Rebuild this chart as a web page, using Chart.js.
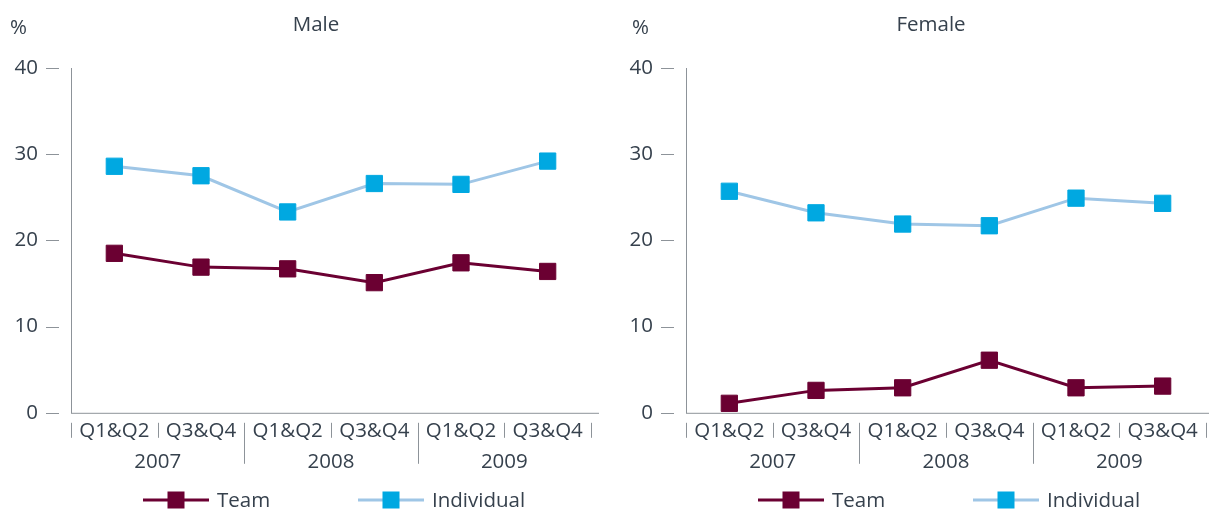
<!DOCTYPE html>
<html>
<head>
<meta charset="utf-8">
<script src="https://cdn.jsdelivr.net/npm/chart.js@4.4.1/dist/chart.umd.min.js"></script>
<style>
  html, body { margin: 0; padding: 0; background: #fff; }
  #wrap { position: relative; width: 1209px; height: 510px; }
  .box { position: absolute; top: 0; height: 510px; }
</style>
</head>
<body>
<div id="wrap">
  <div class="box" style="left:0;width:604px"><canvas id="maleChart"></canvas></div>
  <div class="box" style="left:609px;width:600px"><canvas id="femaleChart"></canvas></div>
</div>
<script>
const periods = ["Q1&Q2", "Q3&Q4", "Q1&Q2", "Q3&Q4", "Q1&Q2", "Q3&Q4"];
const years   = ["2007", "2008", "2009"];
const yTicks  = [0, 10, 20, 30, 40];
const seriesNames = ["Team", "Individual"];

const maleTeam         = [18.5, 16.9, 16.7, 15.1, 17.4, 16.4];
const maleIndividual   = [28.6, 27.5, 23.3, 26.6, 26.5, 29.2];
const femaleTeam       = [1.1, 2.6, 2.9, 6.1, 2.9, 3.1];
const femaleIndividual = [25.7, 23.2, 21.9, 21.7, 24.9, 24.3];

const TEXT = "#36414d", AXIS = "#8d9399";
const TEAM = "#6b0032", IND_LINE = "#9fc6e6", IND_PT = "#00a8e1";
const FONT = "'Open Sans', sans-serif";
const FS = 20.5;

// titles, % label, tick dashes, category separators and legend
const decor = {
  id: "decor",
  afterDraw(chart, args, o) {
    const { ctx, chartArea: a, scales: { x, y } } = chart;
    const mid = (a.left + a.right) / 2;
    ctx.save();
    ctx.fillStyle = TEXT;
    ctx.font = `${FS}px ${FONT}`;
    ctx.textBaseline = "middle";
    ctx.textAlign = "center";
    ctx.fillText(o.title, mid - 15, 25);
    ctx.textAlign = "left";
    ctx.fillText("%", a.left - o.pctOffset, 28);

    ctx.strokeStyle = AXIS; ctx.lineWidth = 1;
    yTicks.forEach(v => {
      const py = Math.round(y.getPixelForValue(v)) + 0.5;
      ctx.beginPath(); ctx.moveTo(a.left - 25, py); ctx.lineTo(a.left - 12, py); ctx.stroke();
    });
    // x axis line, a little past the plot
    ctx.beginPath(); ctx.moveTo(a.left, a.bottom + 0.5); ctx.lineTo(a.right + 8, a.bottom + 0.5); ctx.stroke();
    for (let i = 0; i <= periods.length; i++) {
      const px = Math.round(x.getPixelForValue(i - 0.5)) + 0.5;
      const long = i > 0 && i < periods.length && i % 2 === 0;
      ctx.beginPath(); ctx.moveTo(px, a.bottom + 10); ctx.lineTo(px, a.bottom + (long ? 51 : 25)); ctx.stroke();
    }

    // legend
    const ly = 500;
    chart.data.datasets.forEach((ds, i) => {
      const cx = mid + (i === 0 ? -155 : 60);
      ctx.strokeStyle = ds.borderColor; ctx.lineWidth = 3;
      ctx.beginPath(); ctx.moveTo(cx - 33, ly); ctx.lineTo(cx + 33, ly); ctx.stroke();
      ctx.fillStyle = ds.pointBackgroundColor;
      ctx.fillRect(cx - 8.5, ly - 8.5, 17, 17);
      ctx.fillStyle = TEXT;
      ctx.textAlign = "left";
      ctx.fillText(ds.label, cx + 41, ly + 1);
    });
    ctx.restore();
  }
};

const noSidePad = s => { s.paddingLeft = 0; s.paddingRight = 0; };

function makeChart(id, team, individual, title, pad, pctOffset) {
  const line = (label, data, lineColor, ptColor) => ({
    label, data,
    borderColor: lineColor, borderWidth: 3,
    pointStyle: "rect", pointRadius: 11.5, pointHoverRadius: 11.5,
    pointBackgroundColor: ptColor, pointBorderColor: ptColor, pointBorderWidth: 1,
    tension: 0,
  });
  return new Chart(document.getElementById(id), {
    type: "line",
    data: {
      labels: periods,
      datasets: [
        line(seriesNames[0], team, TEAM, TEAM),
        line(seriesNames[1], individual, IND_LINE, IND_PT),
      ],
    },
    options: {
      responsive: true, maintainAspectRatio: false, animation: false,
      layout: { autoPadding: false, padding: { left: 0, right: pad.right, top: 68, bottom: 36 } },
      plugins: {
        legend: { display: false }, tooltip: { enabled: false },
        decor: { title, pctOffset },
      },
      scales: {
        x: {
          type: "category", offset: true, position: "bottom", weight: 0,
          afterFit: noSidePad,
          grid: { display: false, drawTicks: false }, border: { display: false },
          ticks: { color: TEXT, font: { family: FONT, size: FS }, padding: 6, maxRotation: 0, autoSkip: false },
        },
        year: {
          type: "category", labels: years, offset: true, position: "bottom", weight: 1,
          afterFit: noSidePad,
          grid: { display: false, drawTicks: false }, border: { display: false },
          ticks: { color: TEXT, font: { family: FONT, size: FS }, padding: 0, maxRotation: 0 },
        },
        y: {
          min: 0, max: 40,
          afterFit(s) { s.width = pad.left; },
          grid: { display: false, drawTicks: false },
          border: { display: true, color: AXIS, width: 1 },
          ticks: { stepSize: 10, color: TEXT, font: { family: FONT, size: FS }, padding: 33 },
        },
      },
    },
    plugins: [decor],
  });
}

makeChart("maleChart", maleTeam, maleIndividual, "Male", { left: 71, right: 13 }, 61);
makeChart("femaleChart", femaleTeam, femaleIndividual, "Female", { left: 77, right: 3 }, 54);
</script>
</body>
</html>
